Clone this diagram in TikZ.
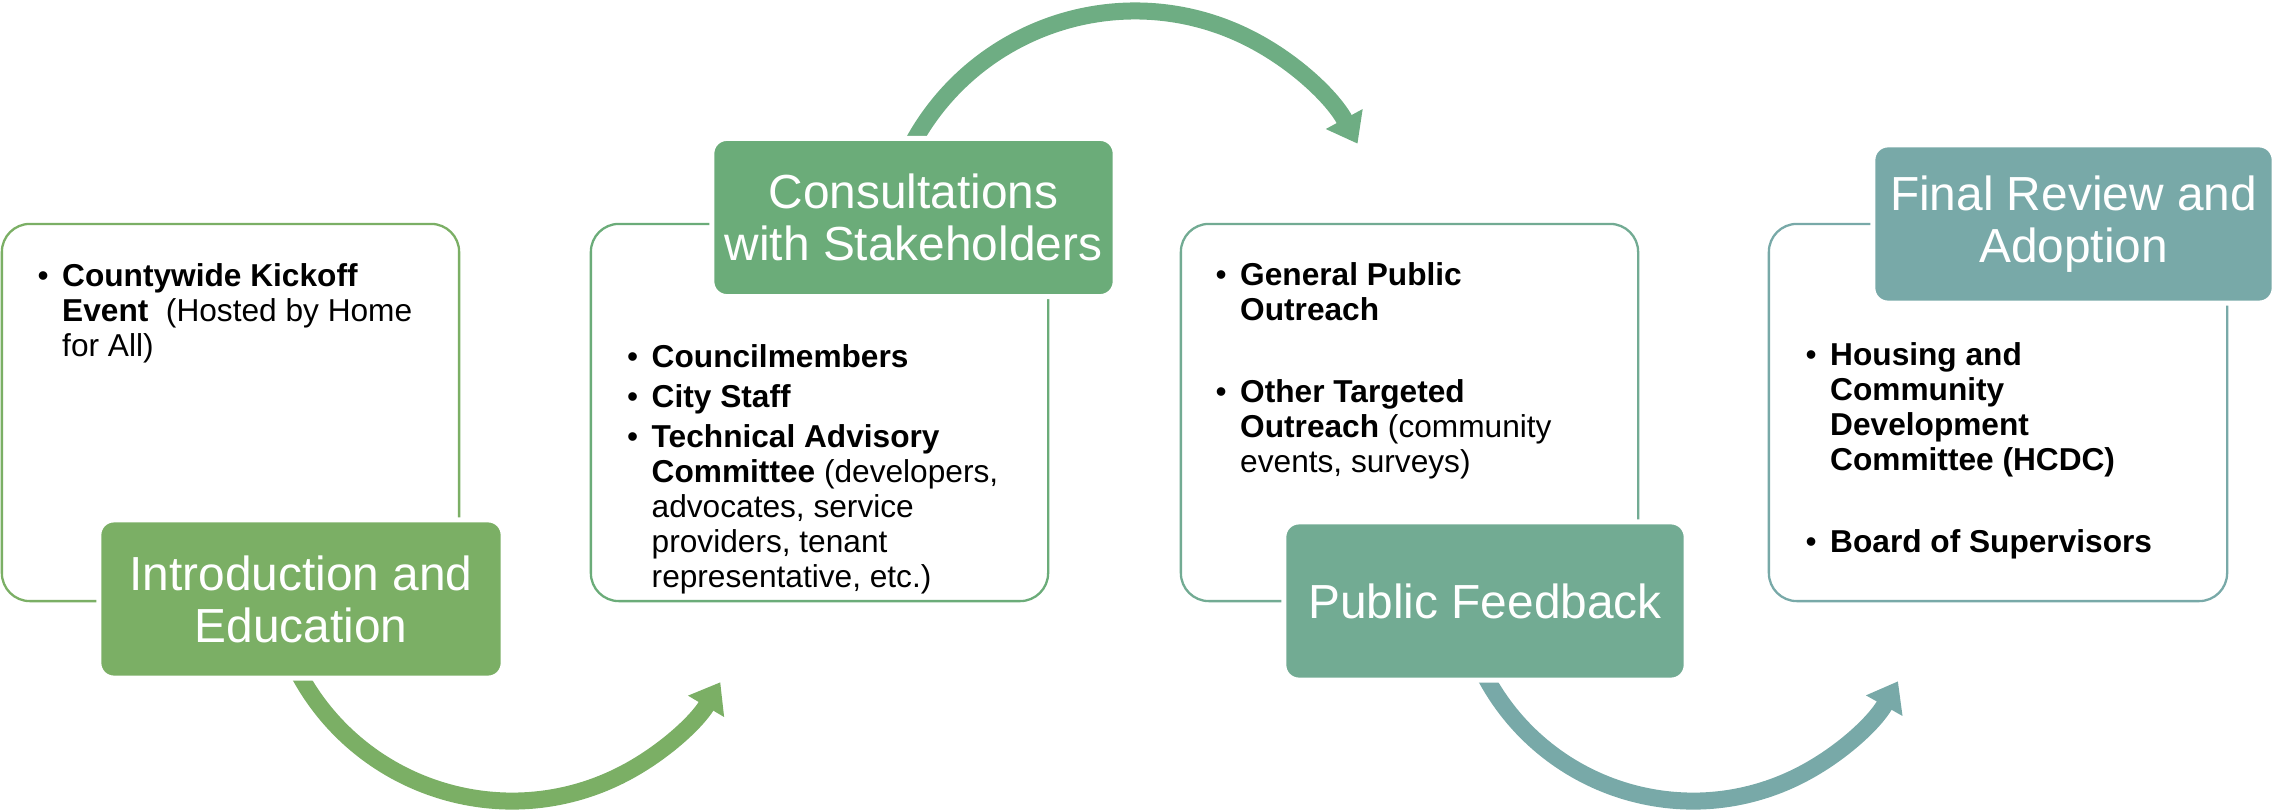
\documentclass[tikz,border=0pt]{standalone}
\usepackage{fontspec}
\setmainfont{Liberation Sans}
\usetikzlibrary{arrows.meta}
\definecolor{Ink}{HTML}{000000}
\definecolor{stageA}{HTML}{7BAF65}
\definecolor{stageB}{HTML}{6BAC79}
\definecolor{stageC}{HTML}{72AB93}
\definecolor{stageD}{HTML}{78A9A8}
\definecolor{flowB}{HTML}{6EAD83}
\tikzset{
  card/.style={rectangle,draw,fill=white,line width=0.65pt,rounded corners=0.28cm,minimum width=4.57cm,minimum height=3.77cm,inner sep=0pt},
  tag/.style={rectangle,draw=white,line width=1.4pt,rounded corners=0.15cm,text=white,font=\fontsize{13.6}{14.8}\selectfont,align=center,minimum width=4.03cm,minimum height=1.58cm,inner sep=0pt},
  body/.style={anchor=base west,inner sep=0pt,text=Ink,font=\fontsize{9}{9.96}\selectfont},
  flow/.style={line width=0.17cm,-{Triangle[length=0.28cm,width=0.40cm]}},
}
\newcommand{\blt}{\textbullet}
\newcommand{\bl}[1]{\begin{tabular}[t]{@{}p{0.245cm}@{}l@{}}#1\end{tabular}}

\begin{document}
\begin{tikzpicture}[x=0.01cm,y=0.01cm]
\useasboundingbox (0,0) rectangle (2275,811);
% -cards-
\node[card,draw=stageA] (introcard) at (230.5,398.5) {};
\node[card,draw=stageB] (consultcard) at (819.5,398.5) {};
\node[card,draw=stageC] (publiccard) at (1409.5,398.5) {};
\node[card,draw=stageD,minimum width=4.58cm] (finalcard) at (1998,398.5) {};
% -arrows-
\coordinate (a1) at (296.4,142.1);
\coordinate (a2) at (907.6,657.9);
\coordinate (a3) at (1481.5,142.1);
\draw[flow,color=stageA] (a1) arc[start angle=207,end angle=329.4,radius=242];
\draw[flow,color=flowB] (a2) arc[start angle=154,end angle=28.4,radius=253];
\draw[flow,color=stageD] (a3) arc[start angle=206,end angle=330.6,radius=235.3];
% -tags-
\node[tag,fill=stageA,minimum width=4.04cm] (intro) at (301,212) {Introduction and\\Education};
\node[tag,fill=stageB] (consult) at (913.5,593.5) {Consultations\\with Stakeholders};
\node[tag,fill=stageC,minimum width=4.02cm] (public) at (1485,210) {Public Feedback};
\node[tag,fill=stageD,minimum width=4.01cm] (final) at (2073.5,587) {Final Review and\\Adoption};
% -lists-
\node[body] (introtxt) at (37,525) {\bl{\blt & \textbf{Countywide Kickoff}\\
 & \textbf{Event}~~(Hosted by Home\\
 & for All)}};
\node[body] (consulttxt) at (626.5,444) {\bl{\blt & \textbf{Councilmembers}\\[0.05cm]
 \blt & \textbf{City Staff}\\[0.05cm]
 \blt & \textbf{Technical Advisory}\\
 & \textbf{Committee} (developers,\\
 & advocates, service\\
 & providers, tenant\\
 & representative, etc.)}};
\node[body] (publictxt) at (1215,526) {\bl{\blt & \textbf{General Public}\\
 & \textbf{Outreach}\\[0.47cm]
 \blt & \textbf{Other Targeted}\\
 & \textbf{Outreach} (community\\
 & events, surveys)}};
\node[body] (finaltxt) at (1805,446) {\bl{\blt & \textbf{Housing and}\\
 & \textbf{Community}\\
 & \textbf{Development}\\
 & \textbf{Committee (HCDC)}\\[0.47cm]
 \blt & \textbf{Board of Supervisors}}};
\end{tikzpicture}
\end{document}
